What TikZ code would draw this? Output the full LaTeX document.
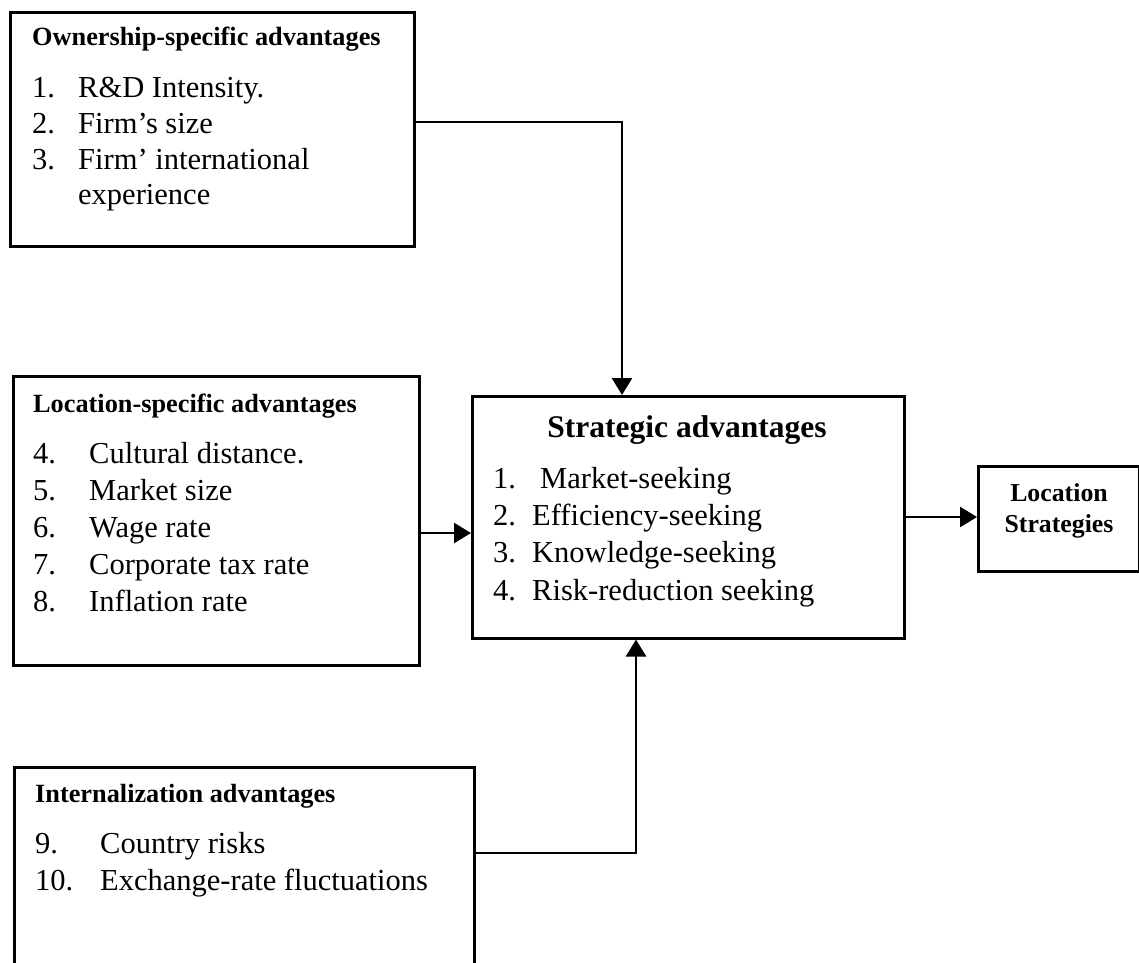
\documentclass[tikz,border=0pt]{standalone}
\usepackage{fontspec}
\setmainfont{Liberation Serif}
\usetikzlibrary{arrows.meta}

\tikzset{
  box/.style={draw, line width=2.5pt, inner sep=0pt, anchor=north west},
  itm/.style={anchor=base west, inner sep=0pt, font=\fontsize{30.5}{36}\selectfont},
  ttl/.style={anchor=base west, inner sep=0pt, font=\bfseries\fontsize{26.3}{30}\selectfont},
  bigttl/.style={anchor=base, inner sep=0pt, font=\bfseries\fontsize{31.5}{36}\selectfont},
  smallttl/.style={anchor=base, inner sep=0pt, font=\bfseries\fontsize{25.8}{30}\selectfont},
  link/.style={line width=2.5pt},
  arr/.style={link, -{Triangle[width=20pt,length=17pt]}}
}

\begin{document}
\begin{tikzpicture}[x=1pt, y=-1pt]
\useasboundingbox (0,0) rectangle (1139,962);
\clip (0,0) rectangle (1139,962);
\fill[white] (0,0) rectangle (1139,962);

% boxes
\node[box, minimum width=404pt, minimum height=234pt] (own) at (9,11) {};
\node[box, minimum width=406pt, minimum height=289pt] (loc) at (12,375) {};
\node[box, minimum width=432pt, minimum height=242pt] (str) at (471,395) {};
\node[box, minimum width=161pt, minimum height=105pt] (ls) at (977,465) {};
\node[box, minimum width=460pt, minimum height=240pt] (int) at (13,766) {};

% ownership-specific advantages
\node[ttl] (ownT) at (32,45) {Ownership-specific advantages};
\node[itm] (o1n) at (32,97) {1.};
\node[itm] (o1) at (78,97) {R\&D Intensity.};
\node[itm] (o2n) at (32,133) {2.};
\node[itm] (o2) at (78,133) {Firm’s size};
\node[itm] (o3n) at (32,169) {3.};
\node[itm] (o3) at (78,169) {Firm’ international};
\node[itm] (o3b) at (78,204) {experience};

% location-specific advantages
\node[ttl] (locT) at (33,412) {Location-specific advantages};
\node[itm] (l4n) at (33,463) {4.};
\node[itm] (l4) at (89,463) {Cultural distance.};
\node[itm] (l5n) at (33,500) {5.};
\node[itm] (l5) at (89,500) {Market size};
\node[itm] (l6n) at (33,537) {6.};
\node[itm] (l6) at (89,537) {Wage rate};
\node[itm] (l7n) at (33,574) {7.};
\node[itm] (l7) at (89,574) {Corporate tax rate};
\node[itm] (l8n) at (33,611) {8.};
\node[itm] (l8) at (89,611) {Inflation rate};

% strategic advantages
\node[bigttl] (strT) at (687,437) {Strategic advantages};
\node[itm] (s1n) at (493,488) {1.};
\node[itm] (s1) at (540,488) {Market-seeking};
\node[itm] (s2n) at (493,525) {2.};
\node[itm] (s2) at (532,525) {Efficiency-seeking};
\node[itm] (s3n) at (493,562) {3.};
\node[itm] (s3) at (532,562) {Knowledge-seeking};
\node[itm] (s4n) at (493,600) {4.};
\node[itm] (s4) at (532,600) {Risk-reduction seeking};

% location strategies
\node[smallttl] (lsT1) at (1059,501) {Location};
\node[smallttl] (lsT2) at (1059,532) {Strategies};

% internalization advantages
\node[ttl] (intT) at (35,802) {Internalization advantages};
\node[itm] (i9n) at (35,853) {9.};
\node[itm] (i9) at (100,853) {Country risks};
\node[itm] (i10n) at (35,890) {10.};
\node[itm] (i10) at (100,890) {Exchange-rate fluctuations};

% connectors
\draw[arr] ([yshift=-111pt]own.north east) -| ([xshift=151pt]str.north west);
\draw[arr] ([yshift=-158pt]loc.north east) -- ([yshift=-158pt]loc.north east -| str.west);
\draw[arr] ([yshift=-122pt]str.north east) -- ([yshift=-122pt]str.north east -| ls.west);
\draw[arr] ([yshift=-87pt]int.north east) -| ([xshift=165pt]str.south west);
\end{tikzpicture}
\end{document}
